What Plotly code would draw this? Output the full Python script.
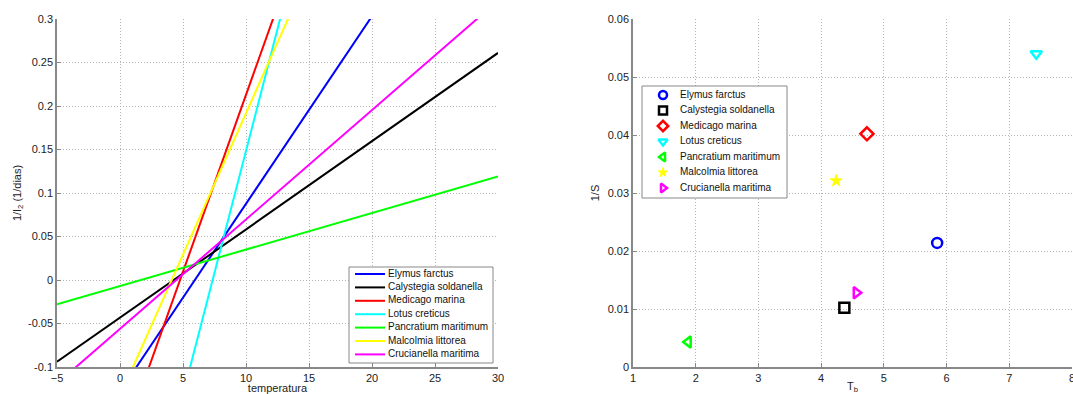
import plotly.graph_objects as go

species = ["Elymus farctus", "Calystegia soldanella", "Medicago marina", "Lotus creticus",
           "Pancratium maritimum", "Malcolmia littorea", "Crucianella maritima"]
colors = ["#0000ff", "#000000", "#ff0000", "#00ffff", "#00ff00", "#ffff00", "#ff00ff"]

# left panel: regression lines, read at x = -5 and x = 30
temp_ends = [-5, 30]
y_at_m5 = [-0.236, -0.094, -0.397, -0.692, -0.028, -0.296, -0.119]
y_at_30 = [0.519, 0.261, 1.026, 1.269, 0.119, 0.842, 0.321]

# right panel: points
tb = [5.85, 4.37, 4.73, 7.43, 1.88, 4.24, 4.56]
inv_s = [0.0214, 0.0102, 0.0402, 0.0540, 0.0043, 0.0321, 0.0128]
symbols = ["circle-open", "square-open", "diamond-open", "triangle-down-open",
           "triangle-left-open", "star", "triangle-right-open"]

W, H = 1073, 394
FONT_FAMILY = "Liberation Sans, Arial, sans-serif"
font = dict(family=FONT_FAMILY, size=11, color="#222")
leg_font = dict(family=FONT_FAMILY, size=10, color="#111")


def marker_style(i, size=10):
    if symbols[i] == "star":
        return dict(symbol="star", color=colors[i], size=size - 1, line=dict(color=colors[i], width=1))
    return dict(symbol=symbols[i], color=colors[i], size=size, line=dict(color=colors[i], width=2.5))


fig = go.Figure()
for i, s in enumerate(species):
    fig.add_trace(go.Scatter(x=temp_ends, y=[y_at_m5[i], y_at_30[i]], mode="lines",
                             line=dict(color=colors[i], width=2), name=s,
                             xaxis="x", yaxis="y", showlegend=False))
for i, s in enumerate(species):
    fig.add_trace(go.Scatter(x=[tb[i]], y=[inv_s[i]], mode="markers",
                             marker=marker_style(i, 10), name=s,
                             xaxis="x2", yaxis="y2", showlegend=False))

# ---- hand-drawn legends on an invisible pixel-space overlay subplot ----
def box(x0, y0, x1, y1):
    fig.add_trace(go.Scatter(x=[x0, x1, x1, x0, x0], y=[y0, y0, y1, y1, y0], mode="lines",
                             fill="toself", fillcolor="white", line=dict(color="#888", width=1),
                             xaxis="x3", yaxis="y3", showlegend=False, hoverinfo="skip"))

# left legend
box(349, 267, 493, 363)
L_ROW0, L_STEP = 274, 13.4
for i, s in enumerate(species):
    yy = L_ROW0 + i * L_STEP
    fig.add_trace(go.Scatter(x=[355, 385], y=[yy, yy], mode="lines", line=dict(color=colors[i], width=2),
                             xaxis="x3", yaxis="y3", showlegend=False, hoverinfo="skip"))
fig.add_trace(go.Scatter(x=[388] * 7, y=[L_ROW0 + i * L_STEP for i in range(7)], mode="text",
                         text=species, textposition="middle right", textfont=leg_font,
                         xaxis="x3", yaxis="y3", showlegend=False, hoverinfo="skip"))

# right legend
box(642, 86, 787, 198)
R_ROW0, R_STEP = 95, 15.5
for i, s in enumerate(species):
    yy = R_ROW0 + i * R_STEP
    fig.add_trace(go.Scatter(x=[663], y=[yy], mode="markers", marker=marker_style(i, 8),
                             xaxis="x3", yaxis="y3", showlegend=False, hoverinfo="skip"))
fig.add_trace(go.Scatter(x=[680] * 7, y=[R_ROW0 + i * R_STEP for i in range(7)], mode="text",
                         text=species, textposition="middle right", textfont=leg_font,
                         xaxis="x3", yaxis="y3", showlegend=False, hoverinfo="skip"))

ax_common = dict(showgrid=True, gridcolor="#b4b4b4", griddash="1px,2px", gridwidth=1,
                 showline=True, linecolor="#888", linewidth=1.5, ticks="inside",
                 ticklen=4, tickcolor="#888", zeroline=False, tickfont=font, automargin=False,
                 ticklabeloverflow="allow")

fig.update_layout(
    width=W, height=H, margin=dict(l=0, r=0, t=0, b=0, autoexpand=False),
    paper_bgcolor="white", plot_bgcolor="rgba(0,0,0,0)", font=font, showlegend=False,
    xaxis=dict(domain=[57 / W, 498 / W], range=[-5, 30], tickvals=[-5, 0, 5, 10, 15, 20, 25, 30],
               title=dict(text="temperatura", standoff=4, font=font), anchor="y", **ax_common),
    yaxis=dict(domain=[27 / H, 375 / H], range=[-0.1, 0.3],
               tickvals=[-0.1, -0.05, 0, 0.05, 0.1, 0.15, 0.2, 0.25, 0.3],
               ticktext=["-0.1", "-0.05", "0", "0.05", "0.1", "0.15", "0.2", "0.25", "0.3"],
               title=dict(text="1/I<sub>2</sub> (1/dias)", standoff=4, font=font), anchor="x", **ax_common),
    xaxis2=dict(domain=[633 / W, 1072 / W], range=[1, 8], tickvals=[1, 2, 3, 4, 5, 6, 7, 8],
                title=dict(text="T<sub>b</sub>", standoff=9, font=font), anchor="y2", **ax_common),
    yaxis2=dict(domain=[27 / H, 375 / H], range=[0, 0.06],
                tickvals=[0, 0.01, 0.02, 0.03, 0.04, 0.05, 0.06],
                ticktext=["0", "0.01", "0.02", "0.03", "0.04", "0.05", "0.06"],
                title=dict(text="1/S", standoff=6, font=font), anchor="x2", **ax_common),
    xaxis3=dict(domain=[0, 1], range=[0, W], visible=False, fixedrange=True, anchor="y3"),
    yaxis3=dict(domain=[0, 1], range=[H, 0], visible=False, fixedrange=True, anchor="x3"),
)
fig.write_html("out.html", config={"displayModeBar": False},
               post_script="document.body.style.margin='0px';")
